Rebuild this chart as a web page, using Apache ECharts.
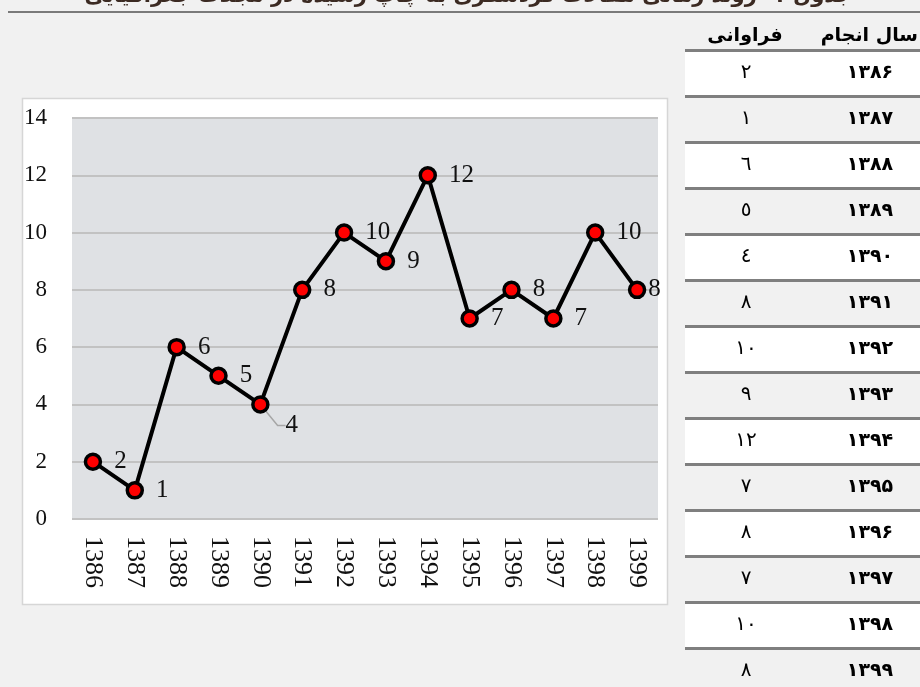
<!DOCTYPE html>
<html><head><meta charset="utf-8">
<script src="https://cdn.jsdelivr.net/npm/echarts@6/dist/echarts.min.js"></script>
<style>
html,body{margin:0;padding:0;background:#f1f1f1;width:920px;height:687px;overflow:hidden;}
#chart{position:absolute;left:0;top:0;width:920px;height:687px;}
.t{position:absolute;font-family:"DejaVu Sans",sans-serif;color:#000;white-space:nowrap;line-height:1.2;}
</style></head>
<body>
<div id="chart"></div>
<div id="overlay"></div>
<script>
const titleText = "جدول ۱- روند زمانی مقالات گردشگری به چاپ رسیده در مجلات جغرافیایی";
const headerYear = "سال انجام";
const headerCount = "فراوانی";
const years = ["1386","1387","1388","1389","1390","1391","1392","1393","1394","1395","1396","1397","1398","1399"];
const counts = [2,1,6,5,4,8,10,9,12,7,8,7,10,8];
const tableYears = ["۱۳۸۶","۱۳۸۷","۱۳۸۸","۱۳۸۹","۱۳۹۰","۱۳۹۱","۱۳۹۲","۱۳۹۳","۱۳۹۴","۱۳۹۵","۱۳۹۶","۱۳۹۷","۱۳۹۸","۱۳۹۹"];
const tableCounts = ["۲","۱","٦","٥","٤","۸","۱۰","۹","۱۲","۷","۸","۷","۱۰","۸"];
const yTicks = {min:0, max:14, interval:2};

// HTML title + table
const ov = document.getElementById('overlay');
let html = '';
html += '<div class="t" style="left:0;width:936px;top:-17px;text-align:center;direction:rtl;font-weight:bold;font-size:21px;color:#3b2a22;">'+titleText+'</div>';
html += '<div style="position:absolute;left:8px;top:11px;width:912px;height:2px;background:#7a7a7a;"></div>';
html += '<div class="t" style="right:2px;top:23px;direction:rtl;font-weight:bold;font-size:19px;">'+headerYear+'</div>';
html += '<div class="t" style="left:705px;width:80px;top:23px;text-align:center;direction:rtl;font-weight:bold;font-size:19px;">'+headerCount+'</div>';
const rowTop = 50, rowH = 46;
for (let i=0;i<tableYears.length;i++){
  const y = rowTop + i*rowH;
  if (i%2===0) html += '<div style="position:absolute;left:685px;top:'+y+'px;width:235px;height:'+rowH+'px;background:#fff;"></div>';
  html += '<div style="position:absolute;left:685px;top:'+(y-1)+'px;width:235px;height:3px;background:#7f7f7f;"></div>';
  html += '<div class="t" style="left:820px;width:100px;top:'+(y+10)+'px;text-align:center;font-weight:bold;font-size:19px;">'+tableYears[i]+'</div>';
  html += '<div class="t" style="left:706px;width:80px;top:'+(y+9)+'px;text-align:center;font-size:20px;">'+tableCounts[i]+'</div>';
}
ov.innerHTML = html;

const chart = echarts.init(document.getElementById('chart'), null, {renderer:'canvas'});
const serif = '"Liberation Serif", serif';
const seriesData = counts.map((v,i)=>{
  if (i===4) return {value:v, labelLine:{show:true, length2:8, lineStyle:{color:'#a6a6a6', width:1.5}}};
  if (i===counts.length-1) return {value:v, label:{distance:2}};
  return v;
});
chart.setOption({
  backgroundColor:'transparent',
  animation:false,
  graphic:[{type:'rect', z:-10, shape:{x:22.5,y:98.5,width:645,height:506}, style:{fill:'#fff', stroke:'#d6d6d6', lineWidth:1.5}}],
  grid:{left:72, right:262, top:118, bottom:168, show:true, backgroundColor:'#dfe1e4', borderWidth:0},
  xAxis:{type:'category', data:years, boundaryGap:true,
    axisLine:{show:false}, axisTick:{show:false},
    axisLabel:{rotate:-90, margin:17, fontFamily:serif, fontSize:26, color:'#111'}},
  yAxis:{type:'value', min:yTicks.min, max:yTicks.max, interval:yTicks.interval,
    axisLine:{show:false}, axisTick:{show:false},
    splitLine:{lineStyle:{color:'#c2c2c2', width:2}},
    axisLabel:{margin:25, fontFamily:serif, fontSize:23, color:'#111'}},
  series:[{type:'line', data:seriesData,
    lineStyle:{color:'#000', width:4},
    symbol:'circle', symbolSize:15,
    itemStyle:{color:'#ff0000', borderColor:'#000', borderWidth:3.5},
    label:{show:true, position:'right', distance:12, fontFamily:serif, fontSize:25, color:'#111'},
    labelLayout:function(p){ if(p.dataIndex===4) return {dy:21, dx:4}; return {}; }
  }]
});
</script>
</body></html>
